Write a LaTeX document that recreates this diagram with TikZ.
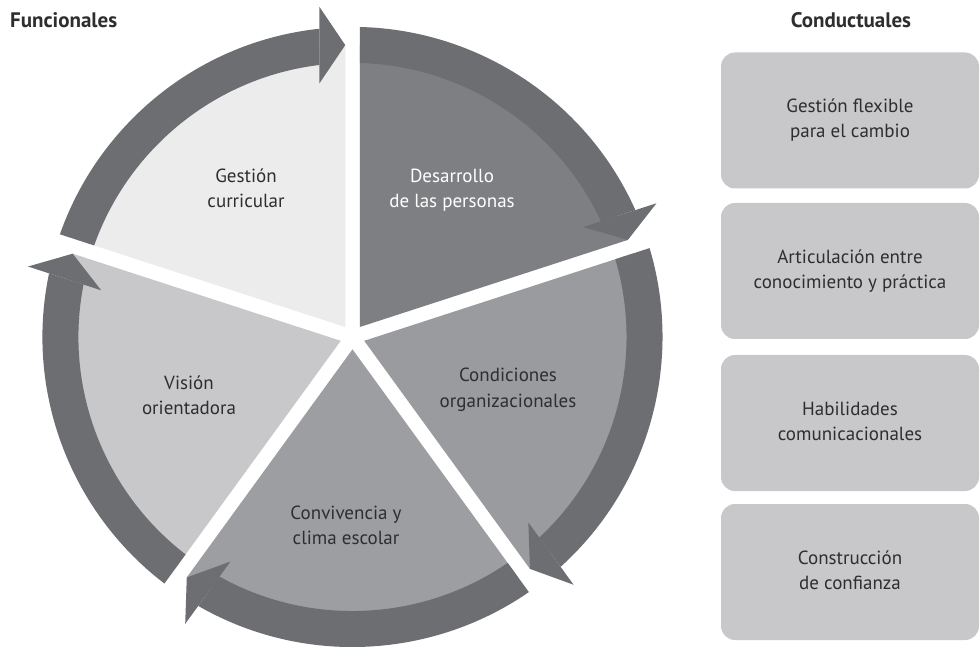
\documentclass[tikz,border=0pt]{standalone}
\usepackage{fontspec}
\setmainfont{PT Sans}
\usetikzlibrary{calc}
\definecolor{bandc}{HTML}{6D6E71}
\definecolor{cGestion}{HTML}{ECECEC}
\definecolor{cDesarrollo}{HTML}{7E7F82}
\definecolor{cCondiciones}{HTML}{9A9B9E}
\definecolor{cConvivencia}{HTML}{9D9EA1}
\definecolor{cVision}{HTML}{C8C8CA}
\definecolor{cBox}{HTML}{C8C8CA}
\definecolor{txt}{HTML}{2E2E2E}
\newcommand{\pieslice}[2]{%
  \begin{scope}[shift={(C)}, rotate=#1]
    \begin{scope}
      \clip (-7.25,9.98) -- ++(90:800) -- ($(-7.25,9.98)+(162:800)$) -- cycle;
      \fill[#2] (0,0) circle (292);
      \begin{scope}
        \clip (-33.25,-400) rectangle (-800,800);
        \fill[bandc, even odd rule] (0,0) circle (310) (0,0) circle (274);
      \end{scope}
      \fill[bandc] (-7.25,291.9) -- (-33.25,330.4) -- (-33.25,253.4) -- cycle;
    \end{scope}
  \end{scope}}
\begin{document}
\begin{tikzpicture}[x=1pt,y=1pt,
  lbl/.style={align=center, font=\fontsize{19}{25}\selectfont, text=txt, inner sep=0pt},
  ttl/.style={font=\fontsize{21}{25}\selectfont\bfseries, text=txt, inner sep=0pt},
  cbox/.style={fill=cBox, rounded corners=14pt, minimum width=258pt, minimum height=136pt,
    align=center, font=\fontsize{19}{25}\selectfont, text=txt, inner sep=0pt}]
\useasboundingbox (0,0) rectangle (980,646);
\fill[white] (0,0) rectangle (980,646);
\coordinate (C) at (352.5,309);

\pieslice{0}{cGestion}
\pieslice{-72}{cDesarrollo}
\pieslice{-144}{cCondiciones}
\pieslice{-216}{cConvivencia}
\pieslice{72}{cVision}

\node[lbl] (gestion) at (246,455.5) {\strut Gestión\\\strut curricular};
\node[lbl, text=white] (desarrollo) at (452,455.5) {\strut Desarrollo\\\strut de las personas};
\node[lbl] (condiciones) at (508,256.5) {\strut Condiciones\\\strut organizacionales};
\node[lbl] (convivencia) at (346,119) {\strut Convivencia y\\\strut clima escolar};
\node[lbl] (vision) at (189,249) {\strut Visión\\\strut orientadora};

\node[ttl, anchor=base west] (funcionales) at (10,618) {Funcionales};
\node[ttl, anchor=base] (conductuales) at (851,618) {Conductuales};

\node[cbox] (b1) at (850,525.5) {\strut Gestión flexible\\\strut para el cambio};
\node[cbox] (b2) at (850,375) {\strut Articulación entre\\\strut conocimiento y práctica};
\node[cbox] (b3) at (850,223) {\strut Habilidades\\\strut comunicacionales};
\node[cbox] (b4) at (850,74) {\strut Construcción\\\strut de confianza};
\end{tikzpicture}
\end{document}
